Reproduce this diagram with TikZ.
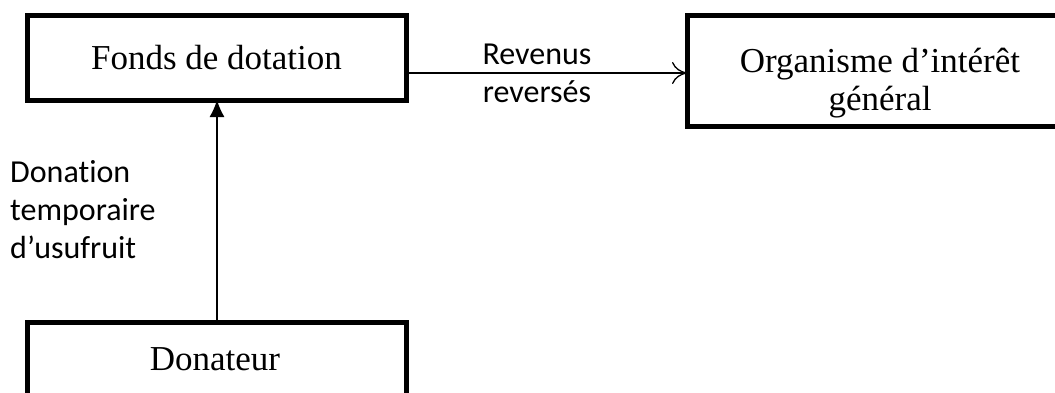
\documentclass[tikz,border=0pt]{standalone}
\usepackage{fontspec}
\setmainfont{Liberation Serif}
\newfontfamily\labelfont[Ligatures=NoCommon]{Carlito}
\usetikzlibrary{arrows.meta}
\begin{document}
\begin{tikzpicture}[x=1pt,y=-1pt,
  boxtext/.style={font=\fontsize{35}{38}\selectfont,inner sep=0pt,align=center},
  box/.style={draw=black,line width=5pt,rectangle,inner sep=0pt,outer sep=0pt,boxtext},
  lbl/.style={font=\labelfont\fontsize{32}{38}\selectfont,inner sep=0pt},
  conn/.style={line width=1.3pt}]
\useasboundingbox (0,0) rectangle (1055,392);
\clip (0,0) rectangle (1055,392);
\fill[white] (0,0) rectangle (1055,392);
\node[box,minimum width=379pt,minimum height=85pt] (fonds) at (216.5,57.5) {Fonds de dotation};
\node[box,minimum width=393pt,minimum height=111pt] (org) at (883.5,70.5) {};
\node[boxtext] (orgtxt) at (880,83) {Organisme d’intérêt\\général};
\node[box,minimum width=379pt,minimum height=98pt] (don) at (216.5,371) {};
\node[boxtext] (dontxt) at (215,359) {Donateur};
\draw[conn,-{To[length=15pt,width=22pt,line width=1.3pt]}] (fonds.east |- 0,73) -- (org.west |- 0,73);
\node[lbl,align=center] (rev) at (537,73) {Revenus\\reversés};
\draw[conn,-{Latex[length=17pt,width=15pt]}] (don.north -| 217,0) -- (fonds.south -| 217,0);
\node[lbl,align=left,anchor=west] (donlbl) at (10,210) {Donation\\temporaire\\d’usufruit};
\end{tikzpicture}
\end{document}
